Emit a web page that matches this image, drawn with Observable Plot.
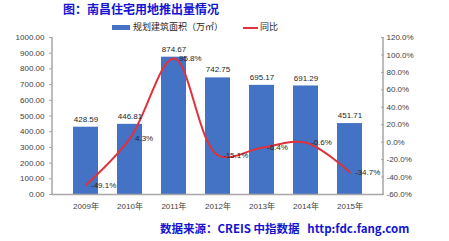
<!DOCTYPE html>
<html><head><meta charset="utf-8">
<script src="https://cdn.jsdelivr.net/npm/d3@7"></script>
<script src="https://cdn.jsdelivr.net/npm/@observablehq/plot@0.6"></script>
<style>
body{margin:0;background:#fff;}
#wrap{position:relative;width:449px;height:241px;overflow:hidden;font-family:"Liberation Sans","Noto Sans CJK SC",sans-serif;}
#wrap svg{position:absolute;left:0;top:0;}
.abs{position:absolute;white-space:nowrap;}
</style></head>
<body>
<div id="wrap"></div>
<script>
const years = ["2009年","2010年","2011年","2012年","2013年","2014年","2015年"];
const area = [428.59, 446.81, 874.67, 742.75, 695.17, 691.29, 451.71];
const yoy = [-49.1, 4.3, 95.8, -15.1, -6.4, -0.6, -34.7];
const leftTicks = [0,100,200,300,400,500,600,700,800,900,1000];
const rightTicks = [-60,-40,-20,0,20,40,60,80,100,120];
const titleText = "图：南昌住宅用地推出量情况";
const legendBar = "规划建筑面积（万㎡）";
const legendLine = "同比";
const sourceText = "数据来源：CREIS 中指数据";
const sourceUrl = "http:fdc.fang.com";

const pMin = -60, pMax = 120, aMax = 1000;
const toLeft = p => (p - pMin) / (pMax - pMin) * aMax;
const data = years.map((y,i)=>({year:y, area:area[i], pct:yoy[i]}));

const axisLines = (index, scales, values, dims) => {
  const g = d3.create("svg:g").attr("stroke","#a6a6a6").attr("stroke-width",1.5);
  g.append("line").attr("x1",dims.marginLeft).attr("x2",dims.marginLeft)
    .attr("y1",dims.marginTop).attr("y2",dims.height-dims.marginBottom);
  g.append("line").attr("x1",dims.width-dims.marginRight).attr("x2",dims.width-dims.marginRight)
    .attr("y1",dims.marginTop).attr("y2",dims.height-dims.marginBottom);
  return g.node();
};

const chart = Plot.plot({
  width: 449, height: 241,
  marginLeft: 52, marginRight: 66, marginTop: 37, marginBottom: 47,
  style: {fontFamily: '"Liberation Sans","Noto Sans CJK SC",sans-serif', fontSize: "8px", color:"#404040", background:"transparent"},
  x: {domain: years, padding: 0.43, label: null},
  y: {domain: [0, aMax], label: null},
  marks: [
    Plot.barY(data, {x:"year", y:"area", fill:"#4472C4"}),
    Plot.ruleY([0], {stroke:"#a6a6a6", strokeWidth:1.5}),
    axisLines,
    Plot.axisY(leftTicks, {anchor:"left", tickSize:3, tickPadding:5, stroke:"#a6a6a6", tickFormat: d => d.toFixed(2), fill:"#404040", fontSize:8, label:null}),
    Plot.axisY(rightTicks.map(toLeft), {anchor:"right", tickSize:-3, tickPadding:6, stroke:"#a6a6a6", tickFormat: d => (d/aMax*(pMax-pMin)+pMin).toFixed(1)+"%", fill:"#404040", fontSize:8, label:null}),
    Plot.axisX({tickSize:0, tickPadding:9, fill:"#404040", fontSize:8, label:null}),
    Plot.line(data, {x:"year", y: d => toLeft(d.pct), stroke:"#E0323C", strokeWidth:2, curve:"catmull-rom"}),
    Plot.text(data, {x:"year", y:"area", text: d => d.area.toFixed(2), dy:-8, fill:"#262626", fontSize:8}),
    Plot.text(data, {x:"year", y: d => toLeft(d.pct), text: d => d.pct.toFixed(1)+"%", dx:5, textAnchor:"start", fill:"#262626", fontSize:8})
  ]
});
const wrap = document.getElementById("wrap");
wrap.appendChild(chart);

function addText(txt, css){
  const d = document.createElement("div");
  d.className = "abs"; d.textContent = txt; d.style.cssText += css;
  wrap.appendChild(d); return d;
}
addText(titleText, "left:63px;top:1px;font-size:12px;font-weight:bold;color:#1414d2;font-family:'Noto Sans CJK SC',sans-serif;line-height:16px;");
// legend
const sw = document.createElement("div"); sw.className="abs";
sw.style.cssText += "left:112px;top:25px;width:18px;height:5px;background:#4472C4;";
wrap.appendChild(sw);
addText(legendBar, "left:133px;top:20px;font-size:9px;color:#262626;font-family:'Noto Sans CJK SC',sans-serif;line-height:14px;");
const ln = document.createElement("div"); ln.className="abs";
ln.style.cssText += "left:243px;top:27px;width:15px;height:2px;background:#E0323C;";
wrap.appendChild(ln);
addText(legendLine, "left:260px;top:20px;font-size:9px;color:#262626;font-family:'Noto Sans CJK SC',sans-serif;line-height:14px;");
addText(sourceText + "\u00a0\u00a0\u00a0" + sourceUrl, "left:160px;top:220px;font-size:11.5px;font-weight:bold;color:#1414d2;font-family:'Noto Sans CJK SC',sans-serif;line-height:16px;");
</script>
</body></html>
